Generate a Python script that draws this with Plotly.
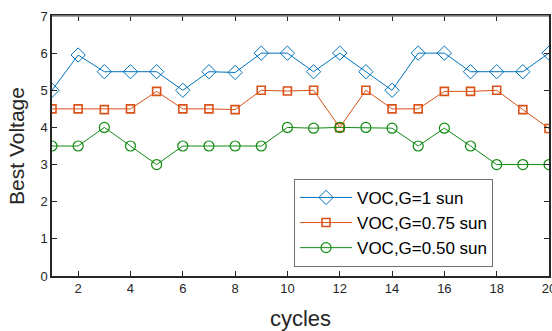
import plotly.graph_objects as go

cycles = list(range(1, 21))
voc_1sun = [5.0, 5.95, 5.5, 5.5, 5.5, 5.0, 5.5, 5.48, 6.0, 6.0, 5.5, 6.0, 5.5, 5.0, 6.0, 6.0, 5.5, 5.5, 5.5, 6.0]
voc_075sun = [4.5, 4.5, 4.48, 4.5, 4.97, 4.5, 4.5, 4.48, 5.0, 4.98, 5.0, 4.0, 5.0, 4.5, 4.5, 4.97, 4.97, 5.0, 4.48, 3.97]
voc_050sun = [3.5, 3.5, 4.0, 3.5, 3.0, 3.5, 3.5, 3.5, 3.5, 4.0, 3.98, 4.0, 4.0, 3.98, 3.5, 3.98, 3.5, 3.0, 3.0, 3.0]
names = ["VOC,G=1 sun", "VOC,G=0.75 sun", "VOC,G=0.50 sun"]
x_ticks = [2, 4, 6, 8, 10, 12, 14, 16, 18, 20]
y_ticks = [0, 1, 2, 3, 4, 5, 6, 7]

fig = go.Figure()
fig.add_trace(go.Scatter(x=cycles, y=voc_1sun, name=names[0], mode="lines+markers",
                         line=dict(color="#0072BD", width=1),
                         marker=dict(symbol="diamond-open", size=11, color="#0072BD", line=dict(width=1))))
fig.add_trace(go.Scatter(x=cycles, y=voc_075sun, name=names[1], mode="lines+markers",
                         line=dict(color="#D95319", width=1),
                         marker=dict(symbol="square-open", size=8, color="#D95319", line=dict(width=1.6))))
fig.add_trace(go.Scatter(x=cycles, y=voc_050sun, name=names[2], mode="lines+markers",
                         line=dict(color="#108a10", width=1),
                         marker=dict(symbol="circle-open", size=10, color="#108a10", line=dict(width=1.2))))

fig.update_layout(
    width=552, height=331,
    margin=dict(l=52, r=3, t=16, b=55, autoexpand=False),
    paper_bgcolor="white", plot_bgcolor="white",
    font=dict(family="Arial", color="#262626"),
    showlegend=True,
    legend=dict(x=0.487, y=0.035, xanchor="left", yanchor="bottom",
                bgcolor="white", bordercolor="#707070", borderwidth=1,
                font=dict(size=17, color="#000000"), tracegroupgap=0,
                itemwidth=52),
    xaxis=dict(range=[1, 20], tickvals=x_ticks, ticks="inside", ticklen=5,
               tickcolor="#262626", showline=True, linecolor="#262626", linewidth=1.5,
               mirror="ticks", showgrid=False, zeroline=False, automargin=False,
               ticklabeloverflow="allow",
               tickfont=dict(size=13, color="#262626"),
               title=dict(text="cycles", font=dict(size=22, color="#262626"), standoff=21)),
    yaxis=dict(range=[0, 7], tickvals=y_ticks, ticks="inside", ticklen=5,
               tickcolor="#262626", showline=True, linecolor="#262626", linewidth=1.5,
               mirror="ticks", showgrid=False, zeroline=False, automargin=False,
               tickfont=dict(size=13, color="#262626"),
               title=dict(text="Best Voltage", font=dict(size=21, color="#262626"), standoff=10)),
)
fig.add_shape(type="line", xref="paper", yref="paper", x0=0, x1=1, y0=1, y1=1,
              line=dict(color="#8a8a8a", width=1.5), layer="above")

fig.write_html("out.html", config={"displayModeBar": False},
               post_script="document.body.style.margin='0';document.body.style.overflow='hidden';")
